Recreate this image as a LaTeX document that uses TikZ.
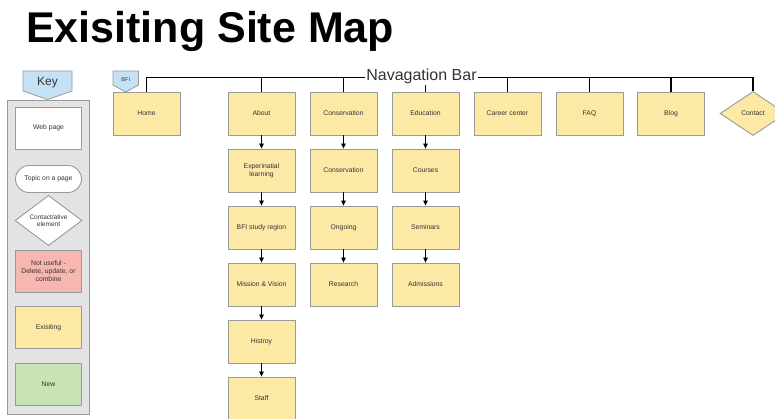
\documentclass[tikz,border=0pt]{standalone}
\usepackage{fontspec}
\setmainfont{Liberation Sans}
\usetikzlibrary{arrows.meta,shapes.geometric}
\definecolor{pageyellow}{HTML}{FDE9A6}
\definecolor{bordergray}{HTML}{9A9A9A}
\definecolor{keygray}{HTML}{E3E3E3}
\definecolor{keyblue}{HTML}{C5E1F5}
\definecolor{badpink}{HTML}{F7B7B0}
\definecolor{newgreen}{HTML}{C9E4B4}
\definecolor{txtgray}{HTML}{333333}
\tikzset{
  pg/.style={draw=bordergray, line width=0.9pt, fill=pageyellow, minimum width=67pt, minimum height=43pt,
     inner sep=1pt, font=\fontsize{6.8}{8}\selectfont, text=txtgray, align=center},
  keybox/.style={pg, minimum width=66pt, minimum height=42pt},
  navline/.style={black, line width=1.4pt},
  arr/.style={black, line width=0.7pt, -{Triangle[width=4.5pt,length=5pt]}},
  tag/.style={draw=bordergray, line width=0.8pt, fill=keyblue},
}
\begin{document}
\begin{tikzpicture}[x=1pt,y=-1pt]
\clip (0,0) rectangle (775,418);
\fill[white] (0,0) rectangle (775,418);
% title
\node[anchor=base west, inner sep=0, font=\fontsize{43}{50}\selectfont\bfseries] (title) at (26,42.3) {Exisiting Site Map};

% key panel
\node[draw=bordergray, line width=0.9pt, fill=keygray, minimum width=82pt, minimum height=314pt, inner sep=0] (keypanel) at (48,257) {};
\draw[tag] (23,71) -- (72,71) -- (72,91) -- (47.5,99.5) -- (23,91) -- cycle;
\node[font=\fontsize{12}{14}\selectfont, text=txtgray, inner sep=0] (keylabel) at (47.5,83) {Key};
\node[keybox, fill=white] (kweb) at (48.5,128) {Web page};
\node[keybox, fill=white, minimum height=27pt, rounded corners=13.5pt] (ktopic) at (48.5,179) {Topic on a page};
\node[draw=bordergray, line width=0.9pt, fill=white, diamond, minimum width=67pt, minimum height=45pt, inner sep=0,
      font=\fontsize{6.5}{7.5}\selectfont, text=txtgray, align=center] (kcontact) at (48.5,220.5) {Contact/ative\\element};
\node[keybox, fill=badpink] (kbad) at (48.5,271) {Not useful -\\Delete, update, or\\combine};
\node[keybox] (kexist) at (48.5,327.5) {Exisiting};
\node[keybox, fill=newgreen] (knew) at (48.5,384) {New};

% BFI tag
\draw[tag] (113,71) -- (138.5,71) -- (138.5,85) -- (125.75,92) -- (113,85) -- cycle;
\node[font=\fontsize{5.5}{6}\selectfont, text=txtgray, inner sep=0] (bfi) at (125.75,80) {BFI};

% top level
\node[pg] (home) at (146.5,113.5) {Home};
\node[pg] (about) at (261.5,113.5) {About};
\node[pg] (cons) at (343.5,113.5) {Conservation};
\node[pg] (edu) at (425.5,113.5) {Education};
\node[pg] (career) at (507.5,113.5) {Career center};
\node[pg] (faq) at (589.5,113.5) {FAQ};
\node[pg] (blog) at (671,113.5) {Blog};
\node[draw=bordergray, line width=0.9pt, fill=pageyellow, diamond, minimum width=66pt, minimum height=44pt, inner sep=0,
      font=\fontsize{6.8}{8}\selectfont, text=txtgray] (contact) at (753,113.5) {Contact};

% navigation bar
\coordinate (nav) at (421.5,77.5);
\draw[navline] (home.north) -- (home.north |- nav) -- (contact.north |- nav) -- (contact.north);
\foreach \n in {about,cons,edu,career,faq,blog}{
  \draw[navline] (\n.north |- nav) -- (\n.north);
}
\node[fill=white, inner sep=1pt, font=\fontsize{16}{18}\selectfont, text=txtgray] (navlabel) at (421.5,76.5) {Navagation Bar};

% About column
\node[pg] (exp) at (261.5,170.5) {Experinatial\\learning};
\node[pg] (bfis) at (261.5,227.5) {BFI study region};
\node[pg] (mission) at (261.5,284.5) {Mission \& Vision};
\node[pg] (hist) at (261.5,341.5) {Histroy};
\node[pg] (staff) at (261.5,398.5) {Staff};
% Conservation column
\node[pg] (cons2) at (343.5,170.5) {Conservation};
\node[pg] (ongo) at (343.5,227.5) {Ongoing};
\node[pg] (research) at (343.5,284.5) {Research};
% Education column
\node[pg] (courses) at (425.5,170.5) {Courses};
\node[pg] (sem) at (425.5,227.5) {Seminars};
\node[pg] (adm) at (425.5,284.5) {Admissions};

\draw[arr] (about) -- (exp);
\draw[arr] (exp) -- (bfis);
\draw[arr] (bfis) -- (mission);
\draw[arr] (mission) -- (hist);
\draw[arr] (hist) -- (staff);
\draw[arr] (cons) -- (cons2);
\draw[arr] (cons2) -- (ongo);
\draw[arr] (ongo) -- (research);
\draw[arr] (edu) -- (courses);
\draw[arr] (courses) -- (sem);
\draw[arr] (sem) -- (adm);
\end{tikzpicture}
\end{document}
